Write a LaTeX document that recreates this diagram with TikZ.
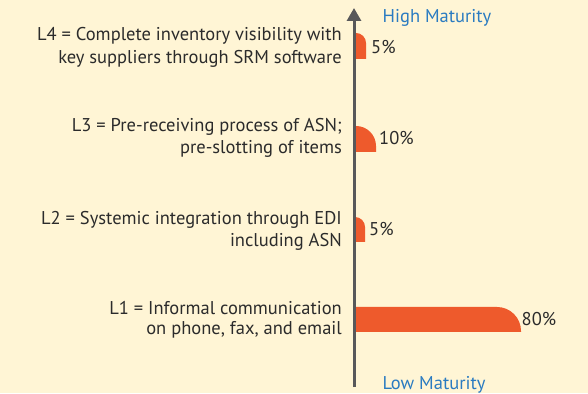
\documentclass[tikz,border=0pt]{standalone}
\usepackage{fontspec}
\setmainfont{PT Sans}
\usetikzlibrary{arrows.meta}
\definecolor{bgcream}{HTML}{FFF5D5}
\definecolor{barorange}{HTML}{EE5A2C}
\definecolor{matblue}{HTML}{2A7BC1}
\definecolor{txtdark}{HTML}{2B2B2B}
\definecolor{axisgrey}{HTML}{58585A}
\tikzset{
  lbl/.style={anchor=base east, inner sep=0pt, text=txtdark, font=\fontsize{18.5}{22}\selectfont},
  pct/.style={anchor=base west, inner sep=0pt, text=txtdark, font=\fontsize{18.5}{22}\selectfont},
  mat/.style={anchor=base west, inner sep=0pt, text=matblue, font=\fontsize{18.5}{22}\selectfont},
  bar/.style={fill=barorange},
}
\begin{document}
\begin{tikzpicture}[x=1pt,y=1pt]
\fill[bgcream] (0,0) rectangle (588,393);
\useasboundingbox (0,0) rectangle (588,393);
% bars
\fill[bar] (354,334) -- (354,360) -- (356,360) arc[start angle=90,end angle=0,radius=10] -- (366,334) -- cycle;
\fill[bar] (354,241) -- (354,267) -- (356,267) arc[start angle=90,end angle=0,radius=20] -- (376,241) -- cycle;
\fill[bar] (354,151) -- (354,176) -- (355,176) arc[start angle=90,end angle=0,radius=10] -- (365,151) -- cycle;
\fill[bar] (354,61) -- (354,86) -- (497,86) arc[start angle=90,end angle=0,radius=24] -- (521,61) -- cycle;
% axis
\coordinate (axbot) at (354,6);
\coordinate (axtop) at (354,385);
\draw[axisgrey, line width=3pt, -{Triangle[width=14pt,length=13pt]}] (axbot) -- (axtop);
% labels
\node[lbl] (l4a) at (342,352.3) {L4 = Complete inventory visibility with};
\node[lbl] (l4b) at (342,329.7) {key suppliers through SRM software};
\node[lbl] (l3a) at (342,261.3) {L3 = Pre-receiving process of ASN;};
\node[lbl] (l3b) at (342,239.7) {pre-slotting of items};
\node[lbl] (l2a) at (342,168) {L2 = Systemic integration through EDI};
\node[lbl] (l2b) at (342,146.3) {including ASN};
\node[lbl] (l1a) at (342,78.7) {L1 = Informal communication};
\node[lbl] (l1b) at (342,58) {on phone, fax, and email};
% percents
\node[pct] (p4) at (371,339.7) {5\%};
\node[pct] (p3) at (379,248) {10\%};
\node[pct] (p2) at (369,157) {5\%};
\node[pct] (p1) at (521.5,67.3) {80\%};
% maturity
\node[mat] (high) at (382.5,370.3) {High Maturity};
\node[mat] (low) at (382.3,4) {Low Maturity};
\end{tikzpicture}
\end{document}
